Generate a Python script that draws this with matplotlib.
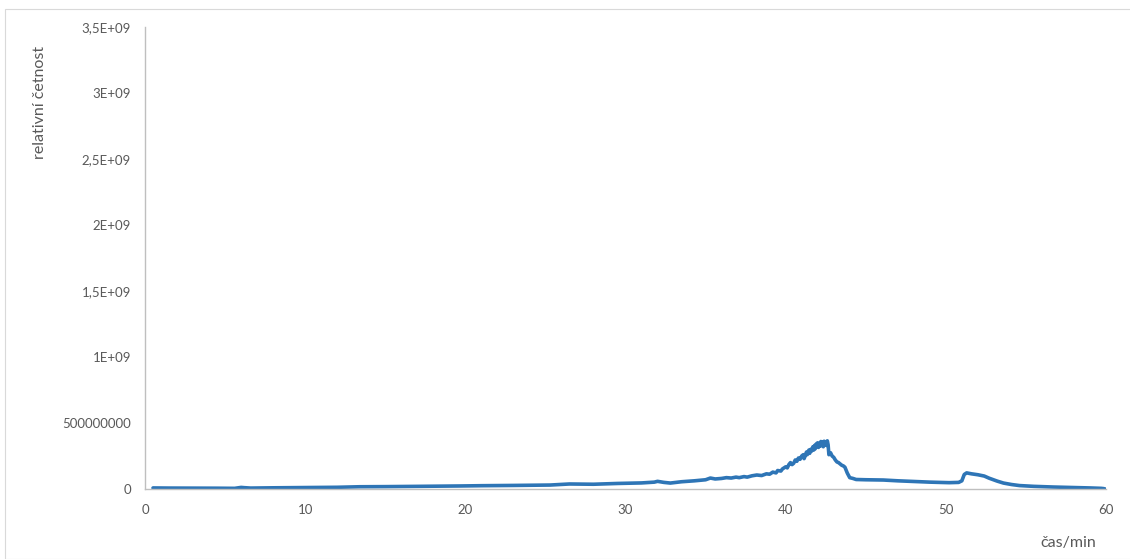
import matplotlib
matplotlib.use("Agg")
import matplotlib.pyplot as plt
from matplotlib.patches import Rectangle
from matplotlib.ticker import FixedLocator, FixedFormatter

# Chromatogram: retention time (min) and relative abundance
time_min = [
    0.5, 1.5, 3.0, 4.5, 5.6, 6.0, 6.2, 6.6, 8.0, 10.0, 12.0, 13.4, 15.0, 17.0,
    19.7, 21.0, 23.0, 25.3, 26.5, 28.0, 29.5, 31.0, 31.8, 32.0, 32.4, 32.8,
    33.5, 34.3, 35.0, 35.3, 35.6, 36.0, 36.3, 36.6, 36.9, 37.1, 37.4, 37.6,
    37.9, 38.2, 38.5, 38.8, 39.0, 39.2, 39.4, 39.5, 39.7, 39.8, 40.0, 40.1,
    40.2, 40.3, 40.4, 40.5, 40.6, 40.7, 40.8, 40.9, 41.0, 41.1, 41.15, 41.2,
    41.3, 41.35, 41.45, 41.5, 41.55, 41.6, 41.7, 41.75, 41.8, 41.85, 41.9,
    42.0, 42.05, 42.1, 42.15, 42.2, 42.25, 42.3, 42.35, 42.4, 42.45, 42.5,
    42.55, 42.6, 42.65, 42.7, 42.8, 42.9, 43.0, 43.1, 43.2, 43.3, 43.4, 43.5,
    43.6, 43.7, 43.85, 44.0, 44.2, 44.4, 45.0, 46.1, 47.0, 48.2, 49.0, 50.2,
    50.8, 51.0, 51.15, 51.3, 51.6, 52.0, 52.4, 52.7, 53.2, 53.6, 54.1, 54.6,
    55.5, 56.7, 58.0, 59.0, 59.7, 59.85, 59.95,
]
abundance = [
    8.0e6, 7.0e6, 6.5e6, 6.0e6, 5.0e6, 1.2e7, 1.0e7, 7.0e6, 9.0e6, 1.1e7,
    1.3e7, 1.7e7, 1.8e7, 2.0e7, 2.3e7, 2.5e7, 2.7e7, 3.0e7, 3.8e7, 3.6e7,
    4.2e7, 4.6e7, 5.2e7, 5.8e7, 5.0e7, 4.5e7, 5.5e7, 6.2e7, 7.0e7, 8.3e7,
    7.6e7, 8.0e7, 8.6e7, 8.3e7, 9.0e7, 8.6e7, 9.4e7, 9.0e7, 1.0e8, 1.06e8,
    1.02e8, 1.15e8, 1.12e8, 1.28e8, 1.22e8, 1.40e8, 1.36e8, 1.52e8, 1.68e8,
    1.60e8, 1.85e8, 2.00e8, 1.85e8, 1.95e8, 2.20e8, 2.10e8, 2.35e8, 2.25e8,
    2.50e8, 2.60e8, 2.30e8, 2.45e8, 2.80e8, 2.60e8, 2.95e8, 2.70e8, 3.00e8,
    2.85e8, 3.20e8, 2.95e8, 3.30e8, 3.05e8, 3.40e8, 3.50e8, 3.15e8, 3.45e8,
    3.25e8, 3.60e8, 3.30e8, 3.55e8, 3.20e8, 3.62e8, 3.35e8, 3.55e8, 3.30e8,
    3.65e8, 3.35e8, 2.60e8, 2.75e8, 2.50e8, 2.40e8, 2.20e8, 2.05e8, 2.00e8,
    1.90e8, 1.80e8, 1.75e8, 1.65e8, 1.20e8, 8.6e7, 8.0e7, 7.2e7, 7.0e7,
    6.8e7, 6.2e7, 5.6e7, 5.2e7, 4.8e7, 5.0e7, 6.2e7, 1.10e8, 1.22e8, 1.15e8,
    1.08e8, 9.8e7, 8.2e7, 6.0e7, 4.5e7, 3.4e7, 2.6e7, 2.0e7, 1.5e7, 1.1e7,
    8.0e6, 5.0e6, 3.0e6, 0.0,
]

x_ticks = [0, 10, 20, 30, 40, 50, 60]
x_tick_labels = ["0", "10", "20", "30", "40", "50", "60"]
y_ticks = [0, 5e8, 1e9, 1.5e9, 2e9, 2.5e9, 3e9, 3.5e9]
y_tick_labels = ["0", "500000000", "1E+09", "1,5E+09", "2E+09",
                 "2,5E+09", "3E+09", "3,5E+09"]

LINE_BLUE = "#2E75B6"
AXIS_GREY = "#BFBFBF"
TEXT_GREY = "#595959"
FONT = ["Lato", "DejaVu Sans"]

W, H = 1130, 559
fig = plt.figure(figsize=(W / 100, H / 100), dpi=100)
fig.patch.set_facecolor("white")

# chart-area frame
fig.patches.append(Rectangle((5 / W, 0), 1.0, 1 - 8.5 / H, transform=fig.transFigure,
                             fill=False, edgecolor="#D9D9D9", linewidth=0.8))

ax = fig.add_axes([145 / W, 1 - 489 / H, (1106 - 145) / W, (489 - 27) / H])
ax.plot(time_min, abundance, color=LINE_BLUE, linewidth=2.6,
        solid_joinstyle="round", solid_capstyle="round")

ax.set_xlim(0, 60)
ax.set_ylim(0, 3.5e9)
ax.xaxis.set_major_locator(FixedLocator(x_ticks))
ax.xaxis.set_major_formatter(FixedFormatter(x_tick_labels))
ax.yaxis.set_major_locator(FixedLocator(y_ticks))
ax.yaxis.set_major_formatter(FixedFormatter(y_tick_labels))

for side in ("top", "right"):
    ax.spines[side].set_visible(False)
for side in ("left", "bottom"):
    ax.spines[side].set_color(AXIS_GREY)
    ax.spines[side].set_linewidth(1.0)

ax.tick_params(axis="both", length=0, labelsize=9.5, labelcolor=TEXT_GREY)
ax.tick_params(axis="y", pad=10)
ax.tick_params(axis="x", pad=11)
for lbl in ax.get_xticklabels() + ax.get_yticklabels():
    lbl.set_family(FONT)

fig.text(40 / W, 1 - 102 / H, "relativní četnost", rotation=90,
         ha="center", va="center", fontsize=11.5, color=TEXT_GREY, family=FONT)
fig.text(1068 / W, 1 - 543 / H, "čas/min", ha="center", va="center",
         fontsize=11.5, color=TEXT_GREY, family=FONT)

fig.savefig("out.png", dpi=100, facecolor="white")
